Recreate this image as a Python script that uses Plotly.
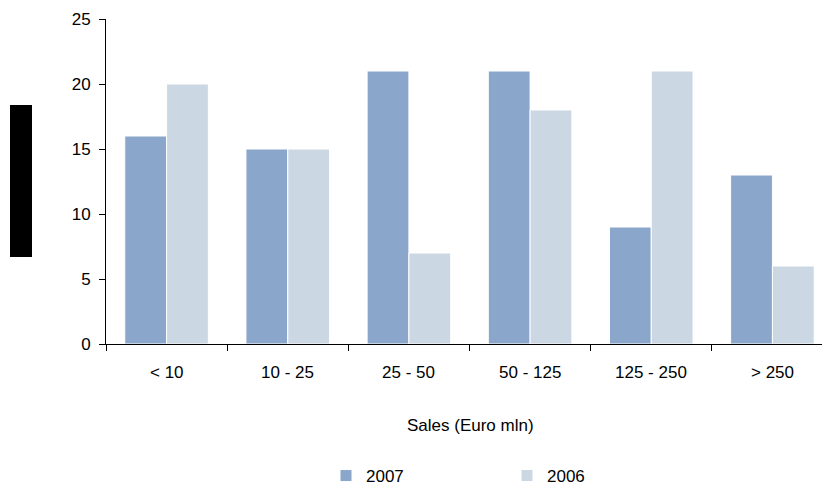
import plotly.graph_objects as go

# Sales size classes and counts per year
categories = ["< 10", "10 - 25", "25 - 50", "50 - 125", "125 - 250", "> 250"]
values_2007 = [16, 15, 21, 21, 9, 13]
values_2006 = [20, 15, 7, 18, 21, 6]
y_ticks = [0, 5, 10, 15, 20, 25]

color_2007 = "#8AA6CB"
color_2006 = "#CCD7E4"
font_family = "Liberation Sans, Arial, sans-serif"
fs = 17

fig = go.Figure()
fig.add_trace(go.Bar(
    x=categories, y=values_2007, name="2007",
    marker=dict(color=color_2007, line=dict(color="white", width=1)),
))
fig.add_trace(go.Bar(
    x=categories, y=values_2006, name="2006",
    marker=dict(color=color_2006, line=dict(color="white", width=1)),
))

W, H = 822, 487
ml, mt, mr, mb = 106, 19, 0, 143
pw = W - ml - mr
ph = H - mt - mb
base = ph + mt  # pixel row of the x axis


def py(row):
    """Paper y coordinate for a pixel row."""
    return (base - row) / ph


def px(col):
    """Paper x coordinate for a pixel column."""
    return (col - ml) / pw


fig.update_layout(
    width=W, height=H,
    margin=dict(l=ml, r=mr, t=mt, b=mb, pad=0, autoexpand=False),
    paper_bgcolor="white", plot_bgcolor="white",
    barmode="group", bargap=0.31, bargroupgap=0.0,
    font=dict(family=font_family, size=fs, color="black"),
    showlegend=True,
    legend=dict(
        orientation="h", x=px(326), xanchor="left",
        y=py(476), yanchor="middle",
        entrywidth=136, entrywidthmode="pixels",
        font=dict(size=fs), traceorder="normal",
        bgcolor="rgba(0,0,0,0)",
    ),
    xaxis=dict(
        range=[-0.5, 5.5 - 11 / 121],
        showgrid=False, showline=True, linecolor="black", linewidth=1,
        ticks="outside", ticklen=6, tickcolor="black",
        tickmode="array", tickvals=[i + 0.5 for i in range(-1, 6)],
        ticktext=["" for _ in range(7)],
        zeroline=False,
    ),
    yaxis=dict(
        range=[0, 25], showgrid=False, showline=True, linecolor="black",
        linewidth=1, ticks="outside", ticklen=6, tickcolor="black",
        tickvals=y_ticks, tickfont=dict(size=fs), zeroline=False,
        ticklabelstandoff=5,
    ),
    shapes=[dict(
        type="rect", xref="paper", yref="paper",
        x0=px(10), x1=px(32), y0=py(257), y1=py(105),
        fillcolor="black", line=dict(width=0),
    )],
)

# Category labels centred under each group
for i, c in enumerate(categories):
    fig.add_annotation(
        x=i, y=0, xref="x", yref="y", text=c, showarrow=False,
        yanchor="middle", yshift=-28, font=dict(size=fs),
    )

# Axis title
fig.add_annotation(
    x=px(470), y=py(425), xref="paper", yref="paper",
    text="Sales (Euro mln)", showarrow=False, yanchor="middle",
    font=dict(size=fs),
)

fig.write_html("out.html")
